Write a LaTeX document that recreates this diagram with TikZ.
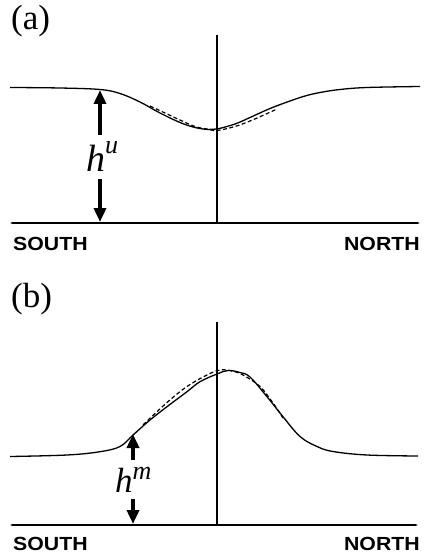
\documentclass[tikz,border=0pt]{standalone}
\usepackage{fontspec}
\setmainfont{Liberation Serif}
\setsansfont{Liberation Sans}
\usetikzlibrary{arrows.meta,positioning,calc}
\newcommand{\hsup}[2]{h\raisebox{#1}{\fontsize{26}{26}\selectfont #2}}

\begin{document}
\begin{tikzpicture}[x=1pt,y=-1pt,
  profile/.style={line width=1.3pt, line join=round},
  model/.style={line width=1.2pt, dash pattern=on 4pt off 2.5pt},
  axisline/.style={line width=1.3pt, {Latex[length=3pt,width=2.5pt]}-{Latex[length=3pt,width=2.5pt]}},
  midline/.style={line width=1.1pt},
  dimarrow/.style={line width=3.5pt, -{Triangle[length=14pt,width=12pt]}},
  panellbl/.style={font=\fontsize{35}{35}\selectfont, anchor=west, inner sep=0pt},
  dirlbl/.style={font=\sffamily\bfseries\fontsize{19}{19}\selectfont, xscale=1.12, inner sep=0pt},
  hlbl/.style={font=\itshape\fontsize{38}{38}\selectfont, inner xsep=0pt, inner ysep=7pt, anchor=base west}
]
\useasboundingbox (0,0) rectangle (423,553);

% (a) upper panel
\coordinate (a-west) at (10,223);
\coordinate (a-east) at (420,223);
\coordinate (a-top) at (217,35);
\coordinate (a-bot) at (217,223);
\coordinate (hu-top) at (100,90);
\coordinate (hu-bot) at (100,222);

\node[panellbl] (a-tag) at (11,21.5) {(a)};
\node[dirlbl, anchor=base west] (a-south) at (13,250) {SOUTH};
\node[dirlbl, anchor=base east] (a-north) at (420,250) {NORTH};
\node[hlbl] (hu) at (86,172) {\hsup{18pt}{u}};

\draw[axisline] (a-west) -- (a-east);
\draw[midline] (a-top) -- (a-bot);
\draw[profile] plot[smooth, tension=0.6] coordinates {(10,87.5) (60,88) (100,89.5) (120,93.5) (140,102) (160,113) (180,122.5) (195,127.5) (208,129.5) (217,129) (235,124) (250,117.5) (270,108.5) (290,101) (305,96) (320,92.5) (340,89.5) (367,87.5) (420,86.5)};
\draw[model] plot[smooth, tension=0.6] coordinates {(150,106) (165,113) (180,120) (195,126.5) (207,129) (217,130.5) (235,126.5) (250,121) (265,114.5) (277,109)};
\draw[dimarrow] (hu.north -| hu-top) -- (hu-top);
\draw[dimarrow] (hu.south -| hu-bot) -- (hu-bot);

% (b) lower panel
\coordinate (b-west) at (10,525);
\coordinate (b-east) at (418,525);
\coordinate (b-top) at (217,322);
\coordinate (b-bot) at (217,525);
\coordinate (hm-top) at (133,434);
\coordinate (hm-bot) at (133,524);

\node[panellbl] (b-tag) at (11,299) {(b)};
\node[dirlbl, anchor=base west] (b-south) at (13,550) {SOUTH};
\node[dirlbl, anchor=base east] (b-north) at (420,550) {NORTH};
\node[hlbl, font=\itshape\fontsize{35}{35}\selectfont] (hm) at (115,492) {\hsup{13pt}{m}};

\draw[axisline] (b-west) -- (b-east);
\draw[midline] (b-top) -- (b-bot);
\draw[profile] plot[smooth, tension=0.6] coordinates {(10,456.5) (67,455) (100,451.7) (120,446.5) (133,435) (150,420) (167,406.7) (187,391.7) (200,381.7) (217,374) (228,370.5) (240,372.5) (250,377) (267,396.7) (283,416.7) (300,436.5) (317,446.5) (333,451.5) (367,455) (418,456)};
\draw[model] plot[smooth, tension=0.6] coordinates {(143,425) (167,402.5) (187,386.5) (207,375) (220,370) (232,371) (243,375) (260,386.5) (273,403) (283,418)};
\draw[dimarrow] (hm.north -| hm-top) -- (hm-top);
\draw[dimarrow] (hm.south -| hm-bot) -- (hm-bot);
\end{tikzpicture}
\end{document}
